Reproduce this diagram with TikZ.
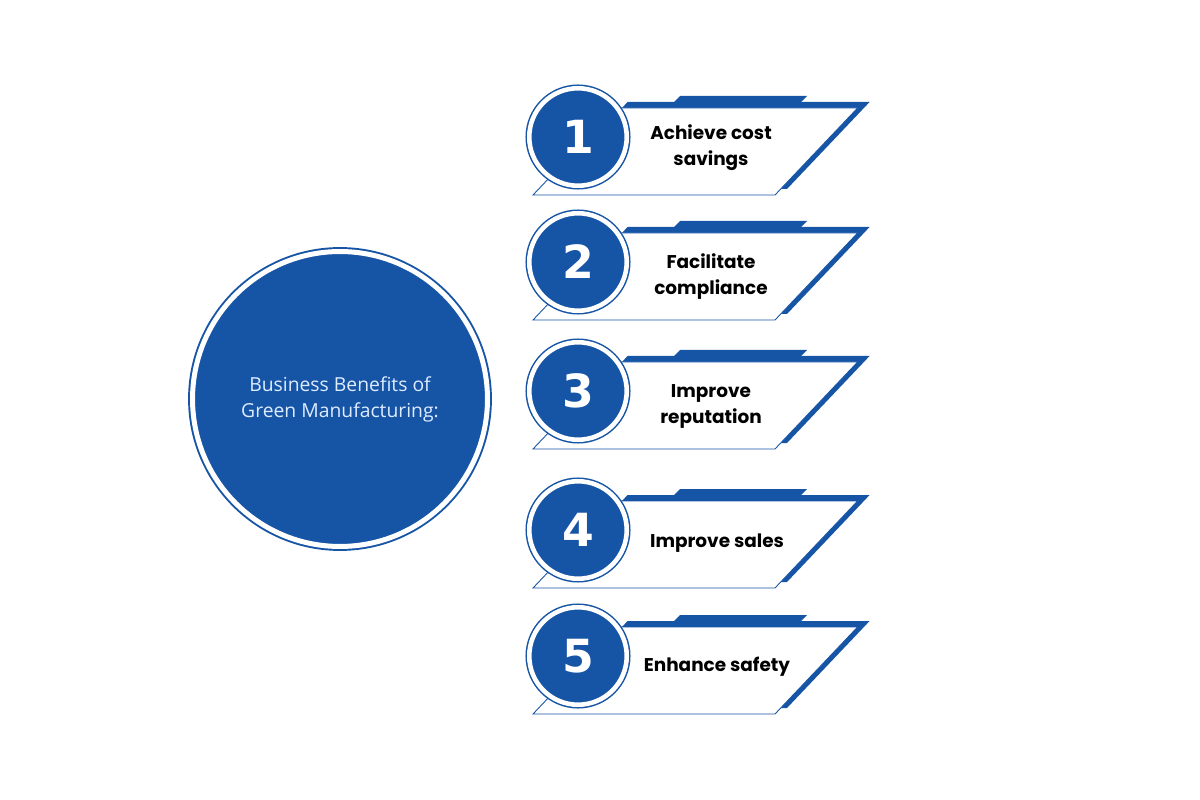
\documentclass[tikz,border=0pt]{standalone}
\usepackage{fontspec}
\setmainfont{Open Sans}
\newfontfamily\cardfont{Poppins}
\newfontfamily\digitfont{DejaVu Sans}
\definecolor{cardBlue}{RGB}{22,84,166}
\definecolor{paleText}{RGB}{222,236,255}
\tikzset{
  % one benefit card, drawn round the centre of its number disk
  card/.pic={
    \fill[cardBlue] (-33,52) -- (209,52) -- (291.6,-35) -- (49.6,-35) -- cycle;
    \fill[cardBlue] (102,-41) -- (229,-41) -- (223,-35) -- (96,-35) -- cycle;
    \filldraw[fill=white, draw=cardBlue, line width=0.5pt]
      (-45,58) -- (197,58) -- (279.6,-29) -- (37.6,-29) -- cycle;
  }}

\begin{document}
\begin{tikzpicture}[x=0.02cm,y=-0.02cm]
\tikzstyle{hub}=[circle,fill=cardBlue,draw=cardBlue,line width=1.1pt,double=white,double distance=2.85pt,minimum size=5.9cm,inner sep=0pt,text=paleText,align=center,font=\fontsize{11}{14.8}\selectfont]
\tikzstyle{numDisk}=[circle,fill=cardBlue,draw=cardBlue,line width=0.85pt,double=white,double distance=2.6pt,minimum size=1.95cm,inner sep=0pt,text=white,font=\digitfont\bfseries\fontsize{26}{28}\selectfont]
\tikzstyle{benefit}=[align=center,text=black,font=\cardfont\bfseries\fontsize{10.5}{14.8}\selectfont]

\useasboundingbox (0,0) rectangle (1200,800);

\node[hub] (hub) at (340,399) {Business Benefits of\\Green Manufacturing:};

%cards.
\pic at (578,137) {card};
\node[numDisk] (n1) at (578,137) {1};
\node[benefit] (b1) at (711,148) {Achieve cost\\savings};

\pic at (578,262) {card};
\node[numDisk] (n2) at (578,262) {2};
\node[benefit] (b2) at (711,277) {Facilitate\\compliance};

\pic at (578,391) {card};
\node[numDisk] (n3) at (578,391) {3};
\node[benefit] (b3) at (711,406) {Improve\\reputation};

\pic at (578,530) {card};
\node[numDisk] (n4) at (578,530) {4};
\node[benefit] (b4) at (717,543) {Improve sales};

\pic at (578,656) {card};
\node[numDisk] (n5) at (578,656) {5};
\node[benefit] (b5) at (717,667) {Enhance safety};

\end{tikzpicture}
\end{document}
